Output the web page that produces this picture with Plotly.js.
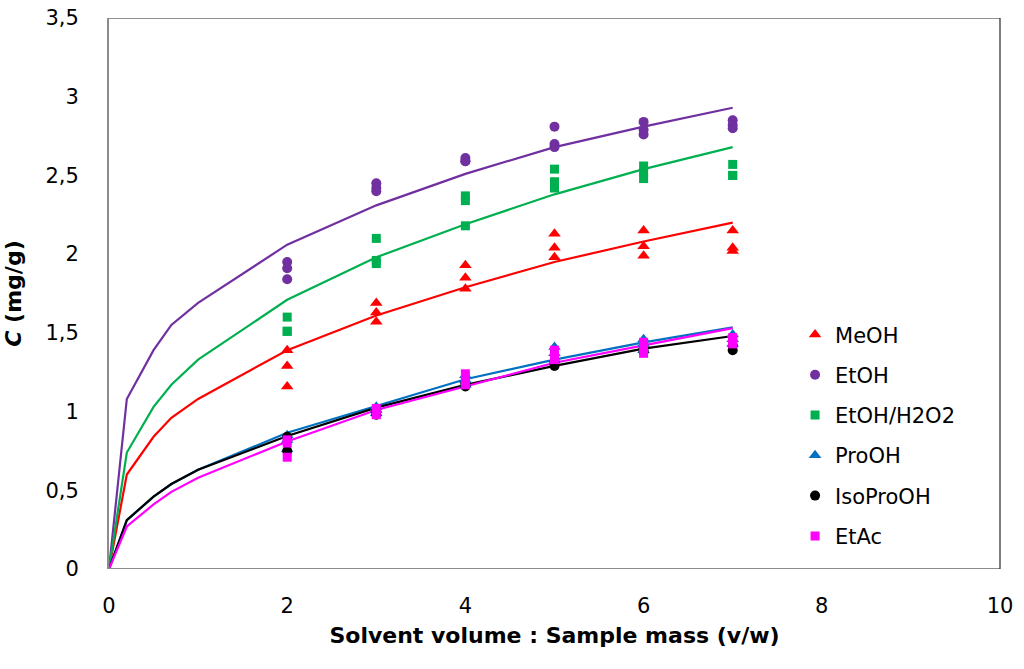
<!DOCTYPE html>
<html>
<head>
<meta charset="utf-8">
<script src="https://cdn.plot.ly/plotly-3.0.1.min.js"></script>
<style>
  html, body { margin: 0; padding: 0; background: #fff; }
  #chart { width: 1024px; height: 669px; }
</style>
</head>
<body>
<div id="chart"></div>
<script>
// solvent : sample ratios used for the fitted curves and for the replicates
const fitX = [0, 0.2, 0.5, 0.7, 1, 2, 3, 4, 5, 6, 7];
const ratioLevels = [2, 3, 4, 5, 6, 7];

// fitted curves, C (mg/g)
const fitMeOH     = [0, 0.60, 0.84, 0.96, 1.08, 1.39, 1.61, 1.79, 1.95, 2.08, 2.20];
const fitEtOH     = [0, 1.08, 1.39, 1.55, 1.69, 2.06, 2.31, 2.51, 2.68, 2.81, 2.93];
const fitEtOHH2O2 = [0, 0.74, 1.03, 1.17, 1.33, 1.71, 1.98, 2.19, 2.38, 2.54, 2.68];
const fitProOH    = [0, 0.31, 0.46, 0.54, 0.63, 0.865, 1.035, 1.205, 1.33, 1.44, 1.535];
const fitIsoProOH = [0, 0.31, 0.46, 0.54, 0.63, 0.845, 1.025, 1.17, 1.29, 1.40, 1.48];
const fitEtAc     = [0, 0.27, 0.41, 0.49, 0.58, 0.81, 1.01, 1.16, 1.31, 1.42, 1.53];

// measured replicates, one inner list per ratio level
const ptsMeOH     = [[1.39, 1.29, 1.16], [1.69, 1.63, 1.57], [1.93, 1.85, 1.78], [2.13, 2.04, 1.98], [2.15, 2.05, 1.99], [2.15, 2.04, 2.02]];
const ptsEtOH     = [[1.95, 1.91, 1.84], [2.45, 2.42, 2.40], [2.61, 2.59, 2.59], [2.81, 2.70, 2.68], [2.84, 2.79, 2.76], [2.85, 2.82, 2.80]];
const ptsEtOHH2O2 = [[1.60, 1.51, 1.51], [2.10, 1.96, 1.94], [2.37, 2.34, 2.18], [2.54, 2.46, 2.42], [2.56, 2.52, 2.48], [2.57, 2.50, 2.50]];
const ptsProOH    = [[0.85, 0.82, 0.76], [1.03, 1.01, 0.99], [1.23, 1.20, 1.17], [1.41, 1.37, 1.33], [1.46, 1.43, 1.39], [1.49, 1.46, 1.43]];
const ptsIsoProOH = [[0.84, 0.75], [1.00, 0.98], [1.18, 1.16], [1.31, 1.29], [1.40, 1.38], [1.42, 1.39]];
const ptsEtAc     = [[0.82, 0.80, 0.71], [1.02, 0.98], [1.24, 1.20, 1.17], [1.39, 1.36, 1.33], [1.44, 1.41, 1.37], [1.47, 1.45, 1.43]];

const series = [
  { name: 'MeOH',      fit: fitMeOH,     pts: ptsMeOH,     color: '#ff0000', symbol: 'triangle-up', size: 11 },
  { name: 'EtOH',      fit: fitEtOH,     pts: ptsEtOH,     color: '#7030a0', symbol: 'circle',      size: 10 },
  { name: 'EtOH/H2O2', fit: fitEtOHH2O2, pts: ptsEtOHH2O2, color: '#00b050', symbol: 'square',      size: 9 },
  { name: 'ProOH',     fit: fitProOH,    pts: ptsProOH,    color: '#0070c0', symbol: 'triangle-up', size: 11 },
  { name: 'IsoProOH',  fit: fitIsoProOH, pts: ptsIsoProOH, color: '#000000', symbol: 'circle',      size: 10 },
  { name: 'EtAc',      fit: fitEtAc,     pts: ptsEtAc,     color: '#ff00ff', symbol: 'square',      size: 9 }
];

const FONT = 'DejaVu Sans, Liberation Sans, Arial, sans-serif';
const AXIS_GREY = '#8c8c8c';
const FRAME = '#262626';

function flatten(pts) {
  const x = [], y = [];
  pts.forEach((reps, i) => reps.forEach(v => { x.push(ratioLevels[i]); y.push(v); }));
  return { x, y };
}

function buildTraces() {
  const traces = [];
  // fitted curves first, so the replicates sit on top
  series.forEach(s => {
    traces.push({
      type: 'scatter', mode: 'lines',
      x: fitX, y: s.fit,
      line: { color: s.color, width: 2.2 },
      showlegend: false, hoverinfo: 'skip'
    });
  });
  series.forEach((s, i) => {
    const p = flatten(s.pts);
    traces.push({
      type: 'scatter', mode: 'markers',
      x: p.x, y: p.y, name: s.name,
      legendgroup: 'g' + i,
      marker: { symbol: s.symbol, size: s.size, color: s.color, line: { width: 0 } }
    });
  });
  return traces;
}

function buildLayout() {
  const axisFont = { family: FONT, size: 21, color: '#000' };
  const titleFont = { family: FONT, size: 22, color: '#000', weight: 'bold' };
  return {
    width: 1024, height: 669,
    paper_bgcolor: '#fff', plot_bgcolor: '#fff',
    separators: ', ',
    margin: { l: 109, r: 24, t: 18, b: 78 },
    font: { family: FONT, color: '#000' },
    // x axis sits a little below the data area so its labels get the
    // same breathing room as in the original; y = 0 edge drawn as a shape
    xaxis: {
      range: [0, 10], dtick: 2, tick0: 0,
      anchor: 'free', position: 0,
      showgrid: false, zeroline: false, showline: false,
      ticks: '',
      tickfont: axisFont,
      title: { text: 'Solvent volume : Sample mass (v/w)', font: titleFont, standoff: 10 }
    },
    yaxis: {
      range: [0, 3.5], dtick: 0.5, tick0: 0,
      domain: [0.0384, 1],
      showgrid: false, zeroline: false,
      showline: true, linecolor: AXIS_GREY, linewidth: 2,
      ticks: '', ticklabelstandoff: 24,
      tickfont: axisFont,
      title: { text: '<i>C</i> (mg/g)', font: titleFont, standoff: 18 }
    },
    shapes: [
      // bottom axis line at C = 0
      { type: 'line', xref: 'paper', yref: 'y', x0: 0, x1: 1, y0: 0, y1: 0, line: { color: AXIS_GREY, width: 2 } },
      // dark frame on the top and right edges of the plot area
      { type: 'line', xref: 'paper', yref: 'y', x0: 0, x1: 1, y0: 3.5, y1: 3.5, line: { color: FRAME, width: 1.2 } },
      { type: 'line', xref: 'paper', yref: 'y', x0: 1, x1: 1, y0: 0, y1: 3.5, line: { color: FRAME, width: 1.2 } }
    ],
    showlegend: true,
    legend: {
      x: 0.77, y: 0.483, xanchor: 'left', yanchor: 'top',
      bgcolor: 'rgba(0,0,0,0)', borderwidth: 0,
      font: { family: FONT, size: 21, color: '#000' },
      tracegroupgap: 10,
      itemsizing: 'trace'
    }
  };
}

Plotly.newPlot('chart', buildTraces(), buildLayout(), { displayModeBar: false, staticPlot: true });
</script>
</body>
</html>
